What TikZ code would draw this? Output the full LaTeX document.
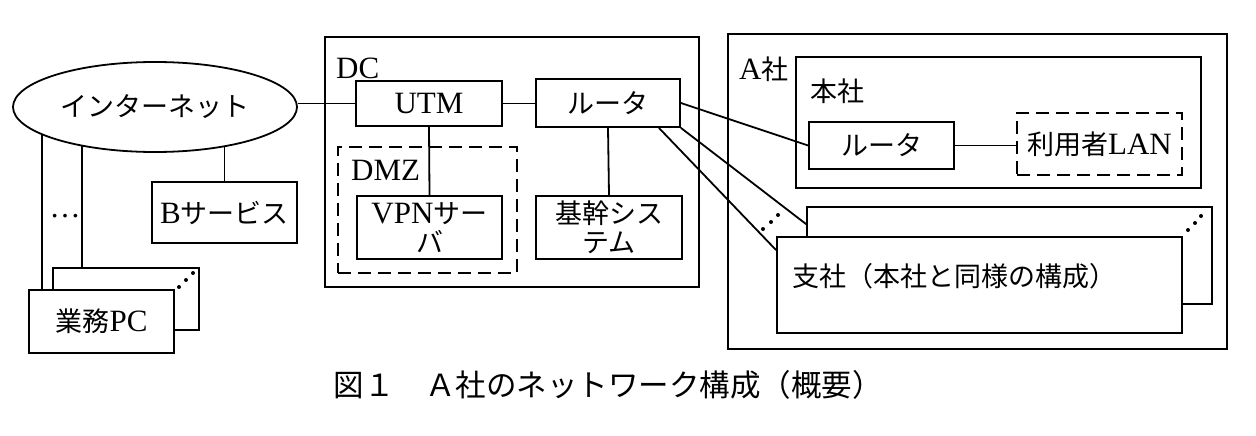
\documentclass[tikz,border=0pt]{standalone}
\usepackage{fontspec}
\setmainfont{Liberation Serif}
\newfontfamily\jp{Noto Sans CJK JP}
\usetikzlibrary{shapes.geometric,backgrounds}
\newcommand\J[1]{{\jp\fontsize{27}{27}\selectfont #1}}
\begin{document}
\begin{tikzpicture}[x=1pt,y=-1pt,
  every node/.style={font=\fontsize{31}{29}\selectfont, inner sep=0pt},
  ln/.style={line width=1.8pt},
  bx/.style 2 args={draw, line width=1.8pt, fill=white, minimum width=#1, minimum height=#2, align=center},
  grp/.style 2 args={draw, line width=1.8pt, minimum width=#1, minimum height=#2},
  dgrp/.style 2 args={draw, line width=1.8pt, dash pattern=on 13pt off 7pt, minimum width=#1, minimum height=#2, align=center},
  lbl/.style={anchor=west}]
\useasboundingbox (0,0) rectangle (1256,436);

% left side
\node[bx={145pt}{61pt}] (bsv) at (224.5,212.5) {B\J{サービス}};
\node[bx={146pt}{62pt}] (pcb) at (126,299) {};
\node[bx={145pt}{63pt}] (pc) at (101.5,321.5) {\J{業務}PC};
\node[draw, ellipse, line width=1.8pt, fill=white, minimum width=284pt, minimum height=90pt] (inet) at (155,107) {\J{インターネット}};
\node (more) at (65,216) {\textellipsis};
\fill (179,287) circle (2pt) (186,280) circle (2pt) (193,273) circle (2pt);

% DC
\node[grp={374pt}{250pt}] (dc) at (512,162) {};
\node[lbl] (dcl) at (336,68) {DC};
\node[bx={146pt}{45pt}] (utm) at (429,103.5) {UTM};
\node[bx={144pt}{48pt}] (rdc) at (608,103) {\J{ルータ}};
\node[dgrp={179pt}{126pt}] (dmz) at (427.5,210) {};
\node[lbl] (dmzl) at (351,170) {DMZ};
\node[bx={145pt}{63pt}] (vpn) at (429.5,227.5) {VPN\J{サー}\\\J{バ}};
\node[bx={146pt}{63pt}] (kikan) at (609,227.5) {\J{基幹シス}\\\J{テム}};

% A-sha
\node[grp={499pt}{315pt}] (asha) at (977.5,191.5) {};
\node[lbl] (ashal) at (739,69) {A\J{社}};
\node[grp={405pt}{131pt}] (honsha) at (998.5,122.5) {};
\node[lbl] (honshal) at (810,91) {\J{本社}};
\node[bx={145pt}{47pt}] (ra) at (881.5,145.5) {\J{ルータ}};
\node[dgrp={165pt}{62pt}, fill=white] (lan) at (1099.5,144) {\J{利用者}LAN};
\node[bx={405pt}{97pt}] (brb) at (1009.5,255.5) {};
\node[bx={405pt}{96pt}] (br) at (979.5,285) {};
\node[lbl] (brl) at (792,276) {\J{支社（本社と同様の構成）}};
\fill (763,229) circle (2pt) (771,222) circle (2pt) (778,215) circle (2pt);
\fill (1188,230) circle (2pt) (1195,223) circle (2pt) (1201,216) circle (2pt);

% caption
\node (cap) at (608,385) {\jp\fontsize{30.5}{30}\selectfont 図１　Ａ社のネットワーク構成（概要）};

% connectors
\begin{pgfonlayer}{background}
\draw[ln] (utm.west) -- (utm.west -| inet.east);
\draw[ln] ([xshift=14pt]pc.north west) -- ([xshift=14pt]pc.north west |- inet.center);
\draw[ln] ([xshift=30pt]pcb.north west) -- ([xshift=30pt]pcb.north west |- inet.center);
\draw[ln] (bsv.north) -- (bsv.north |- inet.center);
\draw[ln] (utm.east) -- (utm.east -| rdc.west);
\draw[ln] (utm.south) -- (vpn.north);
\draw[ln] (rdc.south) -- (kikan.north);
\draw[ln] (rdc.east) -- (ra.west);
\draw[ln] (rdc.south east) -- ([yshift=-18pt]brb.north west);
\draw[ln] ([xshift=-22pt]rdc.south east) -- ([yshift=-14pt]br.north west);
\draw[ln] (ra.east) -- (ra.east -| lan.west);
\end{pgfonlayer}
\end{tikzpicture}
\end{document}
